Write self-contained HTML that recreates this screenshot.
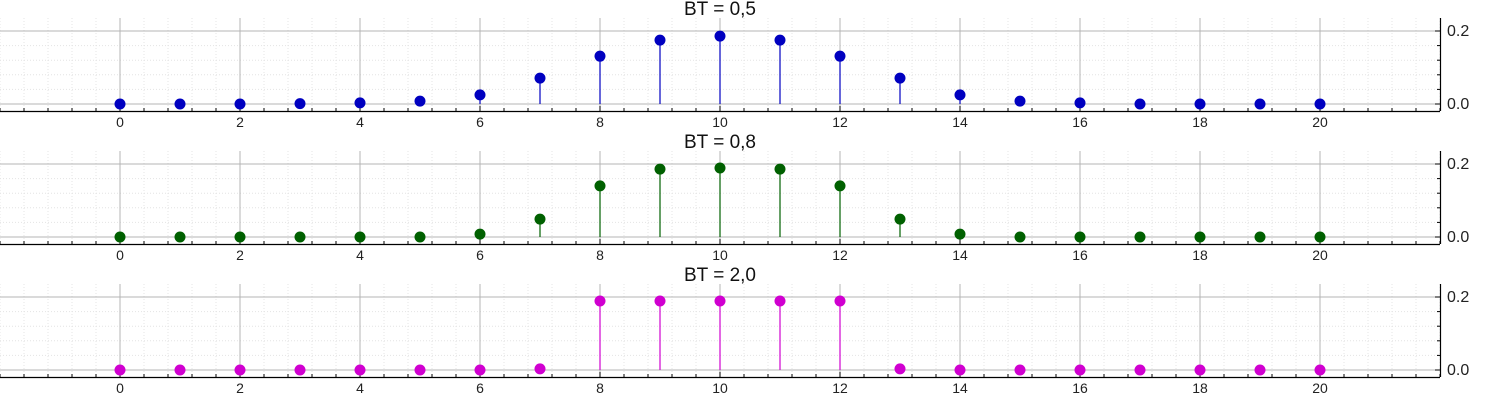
<!DOCTYPE html>
<html><head><meta charset="utf-8"><style>
body{margin:0;background:#fff;width:1500px;height:400px;overflow:hidden;font-family:"Liberation Sans","DejaVu Sans",sans-serif}
</style></head><body>
<svg id="c" width="1500" height="400"></svg>
<script>
const categories=[0,1,2,3,4,5,6,7,8,9,10,11,12,13,14,15,16,17,18,19,20];
const seriesBT05=[0,0,0,0.001,0.003,0.008,0.025,0.071,0.131,0.175,0.186,0.175,0.131,0.071,0.025,0.008,0.003,0,0,0,0];
const seriesBT08=[0,0,0,0,0,0,0.008,0.049,0.14,0.186,0.189,0.186,0.14,0.049,0.008,0,0,0,0,0,0];
const seriesBT20=[0,0,0,0,0,0,0,0.003,0.189,0.189,0.189,0.189,0.189,0.003,0,0,0,0,0,0,0];
const xTicks=[0,2,4,6,8,10,12,14,16,18,20];
const yTicks=[0,0.2];
const titles=["BT = 0,5","BT = 0,8","BT = 2,0"];
const colors=["#0000c0","#006000","#d000d0"];
const allSeries=[seriesBT05,seriesBT08,seriesBT20];
const NS="http://www.w3.org/2000/svg";
const svg=document.getElementById('c');
function mk(t,a,p){const e=document.createElementNS(NS,t);for(const k in a)e.setAttribute(k,a[k]);(p||svg).appendChild(e);return e;}
const xs=v=>120+(v)*60;
for(let p=0;p<3;p++){
  const off=p*133;
  const ys=v=>off+104-v/0.2*73;
  const g=mk('g',{});
  
  
  const top=off+18, axY=off+111;
  for(let v=-2;v<=22.001;v+=0.4){const x=xs(v);mk('line',{x1:x,x2:x,y1:top,y2:axY,stroke:'#e4e4e4','stroke-dasharray':'1,2'},g);}
  for(let v=-0.04;v<=0.24;v+=0.04){const y=ys(v);if(y<top||y>axY)continue;mk('line',{x1:0,x2:1440,y1:y,y2:y,stroke:'#e4e4e4','stroke-dasharray':'1,2'},g);}
  xTicks.forEach(v=>mk('line',{x1:xs(v),x2:xs(v),y1:top,y2:axY,stroke:'#b4b4b4'},g));
  yTicks.forEach(v=>mk('line',{x1:0,x2:1440,y1:ys(v),y2:ys(v),stroke:'#b4b4b4'},g));
  mk('line',{x1:0,x2:1440,y1:axY+0.5,y2:axY+0.5,stroke:'#000','stroke-width':1.2},g);
  mk('line',{x1:1440.5,x2:1440.5,y1:top,y2:axY,stroke:'#000','stroke-width':1.2},g);
  for(let v=-2;v<=22.001;v+=0.4){const x=xs(v);mk('line',{x1:x,x2:x,y1:axY-3,y2:axY,stroke:'#000'},g);}
  xTicks.forEach(v=>{mk('line',{x1:xs(v),x2:xs(v),y1:axY-5,y2:axY,stroke:'#000'},g);
    const t=mk('text',{x:xs(v),y:axY+16,'text-anchor':'middle','font-size':14,fill:'#222'},g);t.textContent=v;
    });
  yTicks.forEach(v=>{mk('line',{x1:1435,x2:1440,y1:ys(v),y2:ys(v),stroke:'#000'},g);
    const t=mk('text',{x:1447,y:ys(v)+5,'font-size':16,fill:'#222'},g);t.textContent=v.toFixed(1);
    });
  for(let v=0.04;v<0.2;v+=0.04)mk('line',{x1:1437,x2:1440,y1:ys(v),y2:ys(v),stroke:'#000'},g);
  const tt=mk('text',{x:720,y:off+15,'text-anchor':'middle','font-size':19,fill:'#111'},g);tt.textContent=titles[p];
  
  categories.forEach((c,i)=>{const v=allSeries[p][i];
    const s=mk('line',{x1:xs(c),x2:xs(c),y1:ys(0),y2:ys(v),stroke:colors[p],'stroke-width':1.2},g);
    
    const d=mk('circle',{cx:xs(c),cy:ys(v),r:5.5,fill:colors[p]},g);
    });
}
</script>
</body></html>
